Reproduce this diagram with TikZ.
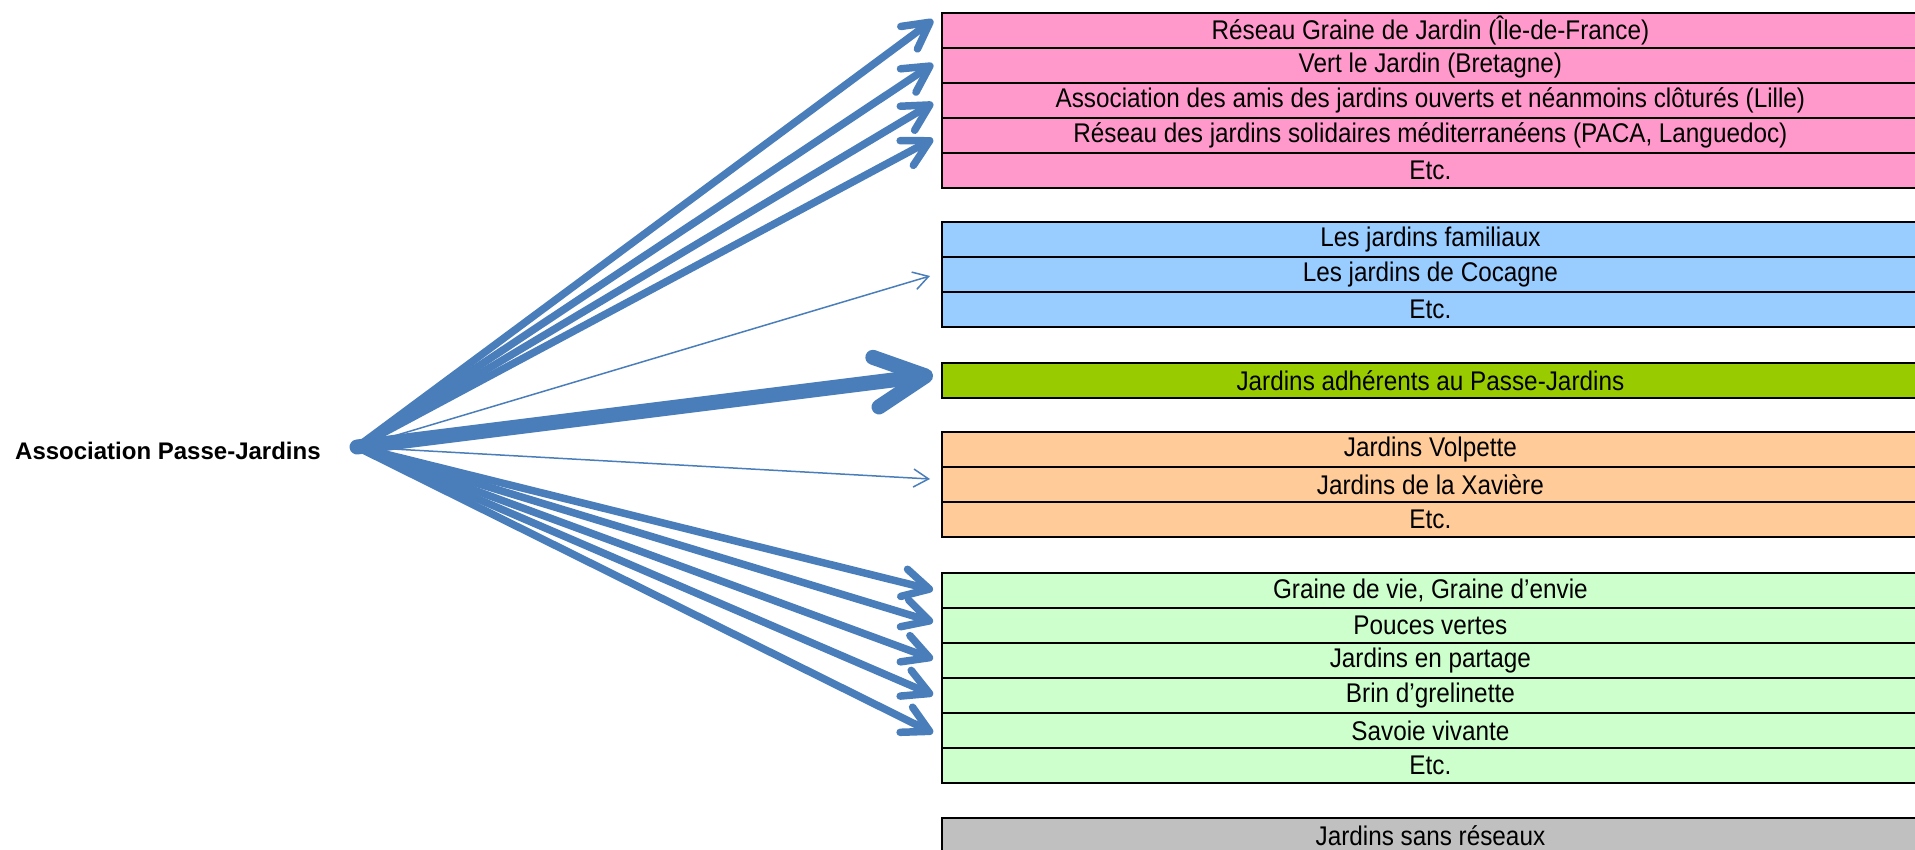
\documentclass[tikz,border=0pt]{standalone}
\usepackage{fontspec}
\setmainfont{Liberation Sans}
\newfontfamily\boxfont[FakeStretch=0.9]{Liberation Sans}
\usetikzlibrary{arrows.meta}
\definecolor{arrowblue}{HTML}{4A7EBB}
\definecolor{cpink}{HTML}{FF99CC}
\definecolor{cblue}{HTML}{99CCFF}
\definecolor{clime}{HTML}{99CC00}
\definecolor{corange}{HTML}{FFCC99}
\definecolor{clgreen}{HTML}{CCFFCC}
\definecolor{cgray}{HTML}{C0C0C0}
\tikzset{
  rowbox/.style={draw=black, line width=1.8pt, fill=#1, minimum width=977pt, minimum height=35pt,
    inner sep=0pt, anchor=north west, font=\boxfont\fontsize{27}{29}\selectfont},
  thickarr/.style={draw=arrowblue, line width=7.5pt, line cap=round,
    -{Straight Barb[length=26pt,width=28pt,round]}},
  thinarr/.style={draw=arrowblue, line width=1.5pt,
    -{Straight Barb[length=15pt,width=18pt]}},
  hugearr/.style={draw=arrowblue, line width=15pt, line cap=round,
    -{Straight Barb[length=50pt,width=50pt,round]}},
  srclabel/.style={inner sep=0pt, anchor=base west, font=\fontsize{24}{28}\selectfont\bfseries}
}
\begin{document}
\begin{tikzpicture}[x=1pt, y=-1pt]
\useasboundingbox (0,0) rectangle (1915,850);
% boxes
\node[rowbox=cpink] (p1) at (941,12) {Réseau Graine de Jardin (Île-de-France)};
\node[rowbox=cpink] (p2) at (941,47) {Vert le Jardin (Bretagne)};
\node[rowbox=cpink] (p3) at (941,82) {Association des amis des jardins ouverts et néanmoins clôturés (Lille)};
\node[rowbox=cpink] (p4) at (941,117) {Réseau des jardins solidaires méditerranéens (PACA, Languedoc)};
\node[rowbox=cpink] (p5) at (941,152) {Etc.};
\node[rowbox=cblue] (b1) at (941,221) {Les jardins familiaux};
\node[rowbox=cblue] (b2) at (941,256) {Les jardins de Cocagne};
\node[rowbox=cblue] (b3) at (941,291) {Etc.};
\node[rowbox=clime] (g1) at (941,362) {Jardins adhérents au Passe-Jardins};
\node[rowbox=corange] (o1) at (941,431) {Jardins Volpette};
\node[rowbox=corange] (o2) at (941,466) {Jardins de la Xavière};
\node[rowbox=corange] (o3) at (941,501) {Etc.};
\node[rowbox=clgreen] (l1) at (941,572) {Graine de vie, Graine d’envie};
\node[rowbox=clgreen] (l2) at (941,607) {Pouces vertes};
\node[rowbox=clgreen] (l3) at (941,642) {Jardins en partage};
\node[rowbox=clgreen] (l4) at (941,677) {Brin d’grelinette};
\node[rowbox=clgreen] (l5) at (941,712) {Savoie vivante};
\node[rowbox=clgreen] (l6) at (941,747) {Etc.};
\node[rowbox=cgray] (s1) at (941,817) {Jardins sans réseaux};
% source
\node[srclabel] (src) at (15,459) {Association Passe-Jardins};
\coordinate (o) at (357,447);
% arrow tips
\coordinate (tp1) at (933,20);
\coordinate (tp2) at (933,64);
\coordinate (tp3) at (933,103);
\coordinate (tp4) at (933,139);
\coordinate (tb) at (930,276);
\coordinate (tg) at (933,375);
\coordinate (to) at (930,479);
\coordinate (tl1) at (933,590);
\coordinate (tl2) at (933,622);
\coordinate (tl3) at (933,659);
\coordinate (tl4) at (933,695);
\coordinate (tl5) at (933,733);
% arrows
\draw[thickarr] (o) -- (tp1);
\draw[thickarr] (o) -- (tp2);
\draw[thickarr] (o) -- (tp3);
\draw[thickarr] (o) -- (tp4);
\draw[thinarr] (o) -- (tb);
\draw[hugearr] (o) -- (tg);
\draw[thinarr] (o) -- (to);
\draw[thickarr] (o) -- (tl1);
\draw[thickarr] (o) -- (tl2);
\draw[thickarr] (o) -- (tl3);
\draw[thickarr] (o) -- (tl4);
\draw[thickarr] (o) -- (tl5);
\end{tikzpicture}
\end{document}
